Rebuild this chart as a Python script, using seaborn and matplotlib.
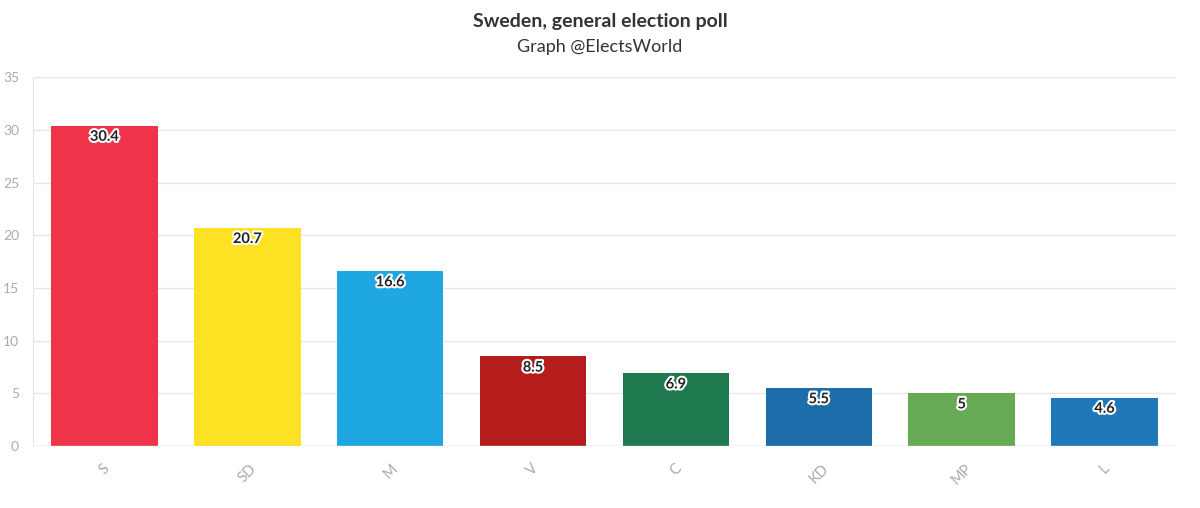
import pandas as pd
import seaborn as sns
import matplotlib.pyplot as plt
import matplotlib.patheffects as pe

parties = ["S", "SD", "M", "V", "C", "KD", "MP", "L"]
values = [30.4, 20.7, 16.6, 8.5, 6.9, 5.5, 5, 4.6]
colors = ["#EF3349", "#FDE223", "#1EA7E1", "#B51C1C", "#1E7A4E", "#1D6DAA", "#66AA55", "#1E78BA"]
labels = ["30.4", "20.7", "16.6", "8.5", "6.9", "5.5", "5", "4.6"]

df = pd.DataFrame({"party": parties, "value": values})

sns.set_style("white")
plt.rcParams["font.family"] = ["Lato", "DejaVu Sans"]

fig = plt.figure(figsize=(12, 5.08), dpi=100)
ax = fig.add_axes([0.0275, 0.122, 0.9525, 0.726])

sns.barplot(data=df, x="party", y="value", hue="party", palette=colors,
            legend=False, width=0.745, saturation=1, linewidth=0, ax=ax, zorder=3)

ax.set_xlim(-0.5, 7.5)
ax.set_ylim(0, 35)
ax.set_yticks(range(0, 36, 5))
ax.yaxis.grid(True, color="#e6e6e6", linewidth=1, zorder=0)
ax.set_axisbelow(True)
for s in ["top", "right", "bottom"]:
    ax.spines[s].set_visible(False)
ax.spines["left"].set_color("#e6e6e6")
ax.axhline(0, color="#dcdcdc", linewidth=1, zorder=4)
ax.tick_params(axis="y", length=6, color="#e6e6e6", labelcolor="#aaaaaa", labelsize=10, pad=4)
ax.tick_params(axis="x", length=5, color="#dcdcdc", labelcolor="#aaaaaa", labelsize=10.5, pad=6)
ax.set_xlabel("")
ax.set_ylabel("")
for t in ax.get_xticklabels():
    t.set_rotation(45)
    t.set_ha("center")

for i, (v, lab) in enumerate(zip(values, labels)):
    ax.annotate(lab, (i, v), xytext=(0, -8), textcoords="offset points",
                ha="center", va="center", fontsize=10.5, fontweight="bold", color="#222222",
                path_effects=[pe.withStroke(linewidth=3, foreground="white")], zorder=5)

fig.text(0.5, 0.958, "Sweden, general election poll", ha="center", va="center",
         fontsize=14, fontweight="bold", color="#333333")
fig.text(0.5, 0.908, "Graph @ElectsWorld", ha="center", va="center",
         fontsize=13, color="#333333")

fig.savefig("out.png", dpi=100)
